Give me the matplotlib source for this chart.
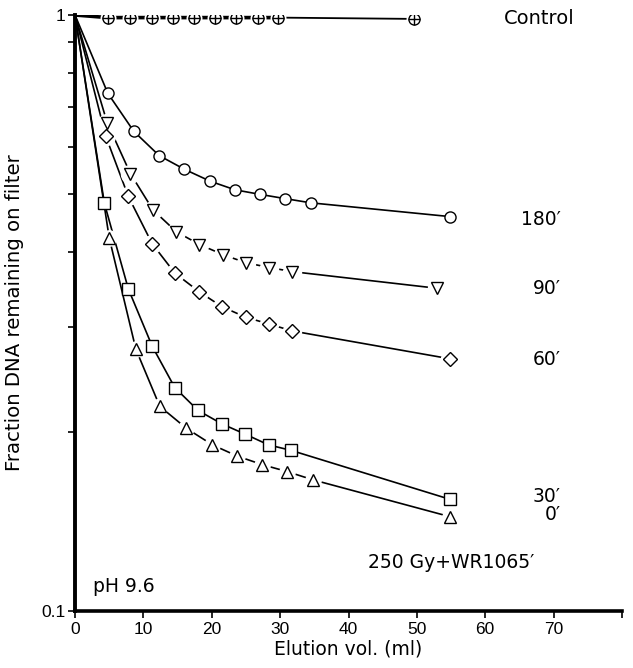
import matplotlib
matplotlib.use("Agg")
import matplotlib.pyplot as plt
from matplotlib.ticker import FixedLocator, NullFormatter, FixedFormatter

plt.rcParams['font.family'] = ['DejaVu Sans']

# ---- data (elution volume in ml, fraction DNA remaining) ----
ctrl_x = [0, 4.8, 8.0, 11.2, 14.3, 17.4, 20.5, 23.6, 26.8, 29.7, 49.6]
ctrl_y = [1.0, 0.99, 0.99, 0.99, 0.99, 0.99, 0.99, 0.99, 0.99, 0.99, 0.985]

t180_x = [0, 4.8, 8.6, 12.3, 16.0, 19.8, 23.4, 27.1, 30.7, 34.5, 54.8]
t180_y = [1.0, 0.739, 0.638, 0.581, 0.551, 0.526, 0.509, 0.500, 0.492, 0.484, 0.459]

t90_x = [0, 4.7, 8.1, 11.4, 14.8, 18.2, 21.7, 25.0, 28.4, 31.8, 52.9]
t90_y = [1.0, 0.660, 0.542, 0.471, 0.433, 0.412, 0.396, 0.384, 0.377, 0.371, 0.348]

t60_x = [0, 4.5, 7.8, 11.3, 14.6, 18.2, 21.5, 25.0, 28.4, 31.8, 54.8]
t60_y = [1.0, 0.626, 0.496, 0.413, 0.369, 0.343, 0.324, 0.311, 0.303, 0.295, 0.265]

t30_x = [0, 4.3, 7.8, 11.3, 14.6, 18.0, 21.5, 24.9, 28.3, 31.6, 54.8]
t30_y = [1.0, 0.483, 0.347, 0.278, 0.237, 0.217, 0.206, 0.198, 0.190, 0.186, 0.154]

t0_x = [0, 5.0, 8.9, 12.4, 16.3, 20.1, 23.7, 27.4, 31.0, 34.8, 54.8]
t0_y = [1.0, 0.423, 0.275, 0.2205, 0.2025, 0.190, 0.182, 0.176, 0.1714, 0.166, 0.144]

series_labels = ["180\u2032", "90\u2032", "60\u2032", "30\u2032", "0\u2032"]
x_ticks = [0, 10, 20, 30, 40, 50, 60, 70, 80]
x_ticklabels = ["0", "10", "20", "30", "40", "50", "60", "70", ""]

fig = plt.figure(figsize=(6.33, 6.68), dpi=100)
ax = fig.add_axes([75/633, 1-611/668, (622-75)/633, (611-15)/668])
ax.set_yscale('log')
ax.set_xlim(0, 80)
ax.set_ylim(0.1, 1.0)

def draw(x, y, marker, ms, gap=None, lw=1.2):
    ax.plot(x, y, color='black', lw=lw, solid_capstyle='butt', zorder=2)
    if gap:
        ax.plot(x[1:], y[1:], ls='none', marker='o', ms=gap,
                mfc='white', mec='white', zorder=3)
    ax.plot(x[1:], y[1:], ls='none', marker=marker, ms=ms, mfc='white',
            mec='black', mew=1.0, zorder=4)

draw(t180_x, t180_y, 'o', 8)
draw(t90_x, t90_y, 'v', 8, gap=13)
draw(t60_x, t60_y, 'D', 7, gap=13)
draw(t30_x, t30_y, 's', 8)
draw(t0_x, t0_y, '^', 8, gap=11)

# control: circle with plus; thick between the early samples, thin to the last
ax.plot(ctrl_x[:-1], ctrl_y[:-1], color='black', lw=2.6, zorder=2)
ax.plot(ctrl_x[-2:], ctrl_y[-2:], color='black', lw=1.3, zorder=2)
ax.plot(ctrl_x[1:], ctrl_y[1:], ls='none', marker='o', ms=10.5, mfc='white', mec='white', zorder=3)
ax.plot(ctrl_x[1:], ctrl_y[1:], ls='none', marker='o', ms=8, mfc='white', mec='black', mew=1.0, zorder=4)
ax.plot(ctrl_x[1:], ctrl_y[1:], ls='none', marker='+', ms=8, mec='black', mew=1.0, zorder=5)

# spines
for s in ['top', 'right']:
    ax.spines[s].set_visible(False)
ax.spines['left'].set_linewidth(2.8)
ax.spines['bottom'].set_linewidth(2.6)

ax.xaxis.set_major_locator(FixedLocator(x_ticks))
ax.xaxis.set_major_formatter(FixedFormatter(x_ticklabels))
ax.yaxis.set_major_locator(FixedLocator([0.1, 1.0]))
ax.yaxis.set_major_formatter(FixedFormatter(["0.1", "1"]))
ax.yaxis.set_minor_locator(FixedLocator([0.2, 0.3, 0.4, 0.5, 0.6, 0.7, 0.8, 0.9]))
ax.yaxis.set_minor_formatter(NullFormatter())
ax.tick_params(axis='both', which='both', direction='out', length=5, width=1.2, pad=2)
for lbl in ax.get_xticklabels() + ax.get_yticklabels():
    lbl.set_fontfamily(['Liberation Sans', 'DejaVu Sans'])
    lbl.set_fontsize(12.5)
ax.tick_params(axis='x', pad=3)

ax.set_xlabel("Elution vol. (ml)", fontsize=13.5, labelpad=2)
ax.set_ylabel("Fraction DNA remaining on filter", fontsize=14.2, labelpad=12)

def fy(py):
    return 1 - py / 668
fig.text(575/633, fy(19), "Control", transform=fig.transFigure,
         fontsize=14, ha='right', va='center')
for lab, py in zip(series_labels, [219, 288, 359, 497, 515]):
    fig.text(561/633, fy(py), lab, transform=fig.transFigure,
             fontsize=13.5, ha='right', va='center')
fig.text(534/633, fy(563), "250 Gy+WR1065\u2032", transform=fig.transFigure,
         fontsize=13.5, ha='right', va='center')
fig.text(93/633, fy(586), "pH 9.6", transform=fig.transFigure,
         fontsize=13.5, ha='left', va='center')

fig.savefig("out.png", dpi=100)
